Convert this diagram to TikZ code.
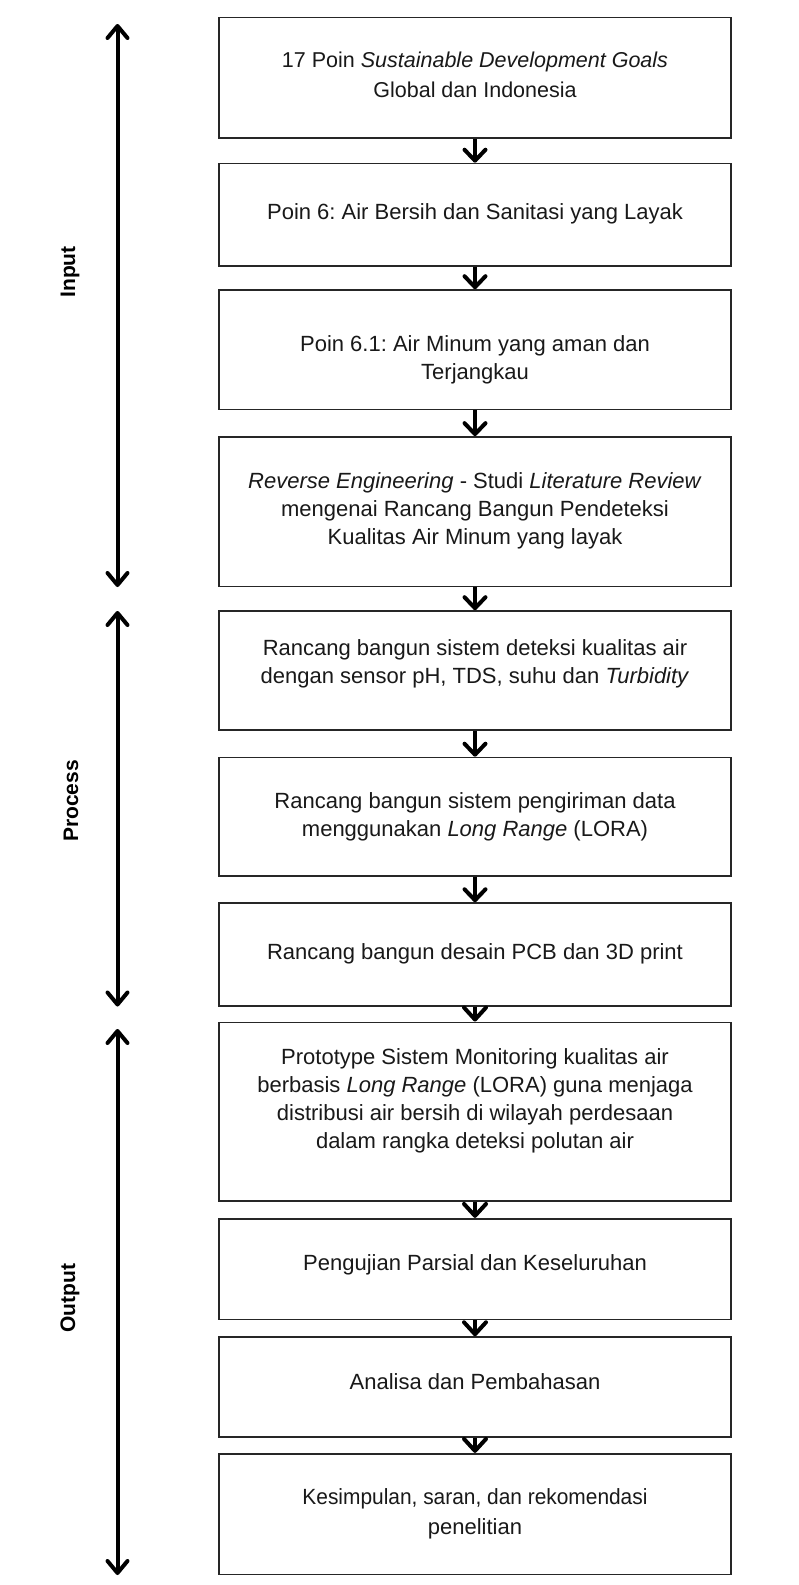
\documentclass[tikz,border=0pt]{standalone}
\usepackage{fontspec}
\setmainfont{Liberation Sans}
\usetikzlibrary{arrows.meta}
\frenchspacing
\begin{document}
\begin{tikzpicture}[x=1pt,y=-1pt,
  box/.style={draw=black!85, line width=1.6pt, minimum width=512pt, inner sep=0pt},
  txt/.style={font=\fontsize{22}{28}\selectfont, align=center, inner sep=0pt, text=black!90},
  lab/.style={font=\bfseries\fontsize{21}{25}\selectfont, rotate=90, inner sep=0pt},
  bigarrow/.style={line width=4pt, {Straight Barb[length=12pt,width=20pt,round]}-{Straight Barb[length=12pt,width=20pt,round]}},
  flow/.style={line width=4pt, -{Straight Barb[length=11pt,width=21pt,round]}},
  flowshort/.style={line width=4pt, -{Straight Barb[length=12pt,width=22pt,round]}}]
\useasboundingbox[fill=white] (0,0) rectangle (798,1585);

% boxes
\node[box, minimum height=120.4pt] (b1) at (475,77.5) {};
\node[box, minimum height=102.2pt] (b2) at (475,214.6) {};
\node[box, minimum height=119.6pt] (b3) at (475,349.8) {};
\node[box, minimum height=149.5pt] (b4) at (475,511.7) {};
\node[box, minimum height=119.2pt] (b5) at (475,670.6) {};
\node[box, minimum height=118.4pt] (b6) at (475,816.7) {};
\node[box, minimum height=102.7pt] (b7) at (475,954.4) {};
\node[box, minimum height=178.7pt] (b8) at (475,1111.7) {};
\node[box, minimum height=100.6pt] (b9) at (475,1269) {};
\node[box, minimum height=99.7pt] (b10) at (475,1386.9) {};
\node[box, minimum height=120.6pt] (b11) at (475,1514) {};

% texts
\node[txt, font=\fontsize{21.5}{30}\selectfont] (t1) at (475,75) {17 Poin \textit{Sustainable Development Goals}\\Global dan Indonesia};
\node[txt] (t2) at (475,213.4) {Poin 6: Air Bersih dan Sanitasi yang Layak};
\node[txt] (t3) at (475,359.5) {Poin 6.1: Air Minum yang aman dan\\Terjangkau};
\node[txt] (t4) at (475,511) {\textit{Reverse Engineering} - Studi \textit{Literature Review}\\mengenai Rancang Bangun Pendeteksi\\Kualitas Air Minum yang layak};
\node[txt] (t5) at (475,664) {Rancang bangun sistem deteksi kualitas air\\dengan sensor pH, TDS, suhu dan \textit{Turbidity}};
\node[txt] (t6) at (475,817) {Rancang bangun sistem pengiriman data\\menggunakan \textit{Long Range} (LORA)};
\node[txt] (t7) at (475,953.8) {Rancang bangun desain PCB dan 3D print};
\node[txt] (t8) at (475,1101) {Prototype Sistem Monitoring kualitas air\\berbasis \textit{Long Range} (LORA) guna menjaga\\distribusi air bersih di wilayah perdesaan\\dalam rangka deteksi polutan air};
\node[txt] (t9) at (475,1264.3) {Pengujian Parsial dan Keseluruhan};
\node[txt] (t10) at (475,1381.6) {Analisa dan Pembahasan};
\node[txt, font=\fontsize{22}{30}\selectfont] (t11) at (475,1514) {\scalebox{0.95}[1]{Kesimpulan, saran, dan rekomendasi}\\penelitian};

% flow arrows
\draw[flow] (b1.south) -- (b2.north);
\draw[flow] (b2.south) -- (b3.north);
\draw[flow] (b3.south) -- (b4.north);
\draw[flow] (b4.south) -- (b5.north);
\draw[flow] (b5.south) -- (b6.north);
\draw[flow] (b6.south) -- (b7.north);
\draw[flowshort] (b7.south) -- (b8.north);
\draw[flowshort] (b8.south) -- (b9.north);
\draw[flowshort] (b9.south) -- (b10.north);
\draw[flowshort] (b10.south) -- (b11.north);

% phase arrows
\coordinate (iA) at (117.5,24);
\coordinate (iB) at (117.5,587);
\coordinate (pA) at (117.5,611);
\coordinate (pB) at (117.5,1006.5);
\coordinate (oA) at (117.5,1029);
\coordinate (oB) at (117.5,1575);
\draw[bigarrow] (iA) -- (iB);
\draw[bigarrow] (pA) -- (pB);
\draw[bigarrow] (oA) -- (oB);

\node[lab] (lin) at (70,272) {Input};
\node[lab] (lpr) at (71,801) {Process};
\node[lab] (lout) at (70,1298) {Output};
\end{tikzpicture}
\end{document}
